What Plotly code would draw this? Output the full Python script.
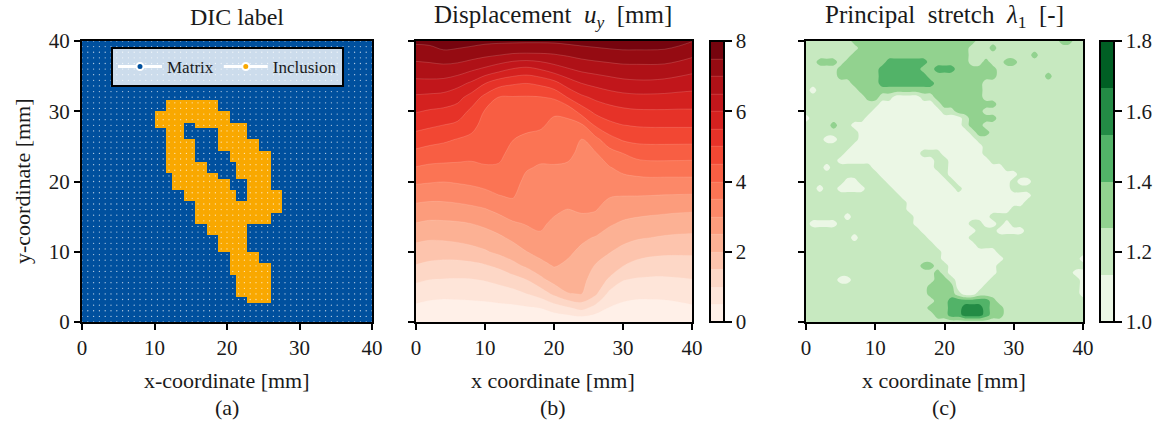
import numpy as np
import plotly.graph_objects as go

ticks_xy = [0, 10, 20, 30, 40]
node_mm = [0.8 * k for k in range(51)]
uy_x_mm = list(range(0, 41, 2))
uy_y_mm = list(range(0, 41, 2))
stretch_mm = list(range(41))

# (first row, last row, [(first col, last col), ...]) of label "Inclusion"
inclusion_rows = [
    (38, 39, [(15, 23)]), (36, 37, [(13, 25)]), (35, 35, [(13, 17), (20, 28)]),
    (33, 34, [(15, 17), (24, 28)]), (31, 32, [(15, 19), (24, 30)]),
    (29, 30, [(15, 19), (26, 32)]), (27, 28, [(15, 21), (27, 32)]),
    (26, 26, [(16, 23), (27, 32)]), (24, 25, [(16, 25), (29, 32)]),
    (22, 23, [(18, 26), (29, 34)]), (20, 21, [(20, 34)]), (18, 19, [(20, 32)]),
    (16, 17, [(22, 28)]), (13, 15, [(24, 28)]), (11, 12, [(26, 30)]),
    (9, 10, [(26, 32)]), (5, 8, [(27, 32)]), (4, 4, [(29, 32)]),
]

# displacement u_y in 1/100 mm; one list per x column, y from 0 upward
uy_columns = [
[5,39,73,108,147,179,212,248,283,320,358,398,437,477,517,554,592,637,678,718,760],
[5,33,64,99,138,173,206,241,278,316,354,391,428,467,508,545,588,637,681,722,763],
[5,31,61,97,134,171,208,242,279,316,351,389,424,459,499,539,583,634,682,733,779],
[5,32,62,96,133,174,213,244,283,320,355,389,419,448,489,528,567,617,677,729,774],
[5,33,64,97,136,183,220,250,289,326,360,388,415,440,464,489,531,593,659,721,768],
[5,35,67,103,145,195,228,260,297,335,368,397,411,422,434,446,486,552,641,710,762],
[5,37,73,114,160,211,241,276,312,349,373,396,409,419,429,439,449,521,620,701,760],
[5,39,82,129,185,226,260,293,330,355,366,378,389,401,416,431,447,507,597,693,759],
[5,43,99,149,208,249,279,303,316,328,340,354,373,392,410,428,446,501,586,691,758],
[5,50,120,186,233,267,294,307,317,327,336,346,362,385,407,427,448,511,602,692,758],
[5,72,160,218,253,266,280,293,307,320,334,347,361,375,388,407,457,533,627,696,759],
[5,92,198,221,242,258,272,285,299,314,329,344,359,373,387,414,503,574,646,705,764],
[5,116,201,214,228,241,258,286,305,313,322,331,340,348,391,474,540,601,662,715,769],
[5,81,159,178,197,222,247,278,303,314,325,335,346,385,456,513,561,615,670,722,773],
[5,47,86,144,176,203,230,256,280,304,326,347,379,432,486,529,575,627,676,728,777],
[5,36,68,102,151,185,215,243,272,301,332,365,400,456,499,539,584,636,682,733,779],
[5,32,61,94,134,171,205,236,267,301,336,374,418,464,504,544,588,640,683,733,779],
[5,32,61,92,127,163,200,231,264,300,338,379,423,465,506,545,588,640,684,733,779],
[5,33,62,92,125,159,195,227,261,298,337,379,423,465,506,545,587,636,682,731,777],
[5,37,66,95,126,158,192,224,258,297,337,379,422,465,506,544,584,629,674,721,767],
[5,43,71,98,127,158,190,223,256,296,337,378,421,465,506,544,583,622,664,708,752],
]

# principal stretch read as band index on a 1 mm grid, rows from y=40 down to y=0
stretch_rows_top_down = [
"1111111 222222222222222222 111111111111 22 11",
"11111111 2222222222222222 111 2 1111111111111",
"1111111 22222222222222222 111111111 2 1111111",
"11 222 1 222222 333333 222222 11 2 11 22 1111111111",
"11111 222222 333333 22 333 222222 1111111111111",
"11111 222222 3333333 2222222222 1111111 2 11111",
"1111111 2222 33333333 2222222 111111111111111",
"1 0 111111 222222222222222222 111111111111111",
"111111111 22 11 0000 11 2222222 111111111111111",
"11111111111 00000000 1 22222222 1111111111111",
"1111111111 0000000000 11 2222 111111111111111",
"0 11111111 00000000000000 1 2222 1111111111111",
"1111 2 11 0000000000000000 1 22 111111111111111",
"11111111 0000000000000000 1 22 11111111111111",
"111 00 111 00000000000000000 1111111111111111",
"1111111 0000000000000000000 111111111111111",
"111111 00000000000 111 000000 111111111111111",
"11111 00000000000000 11 000000 11111111111111",
"111 0 111111 000000000 11 00000000 111111111111",
"11111111111 000000000 1 0000000000 1111111111",
"111111 00 1111 000000000 1 00000000 1 00 11111111",
"11 0 11 0000 1111 000000000 1 0000000 11111111111",
"11111111111111 0000000000000000000 11111111",
"111111111111111 00000000000000000 111111111",
"111111111111111 000000000000000 11111111111",
"111111 0 111111111 00000000000 11111111111111",
"1 0000 11111111111 00000000 11 00 1 0 11111111111",
"11111111111111111 00000000 111 0000 111111111",
"1111111 0 1111111111 000000 11111111111111111",
"1111111111111111111 000000 1111111111111111",
"11111111111111111111 00000000 1111111111111",
"11111111111111111111 000000000 11111111111 0",
"11111111111111111 22 11 0000000 1111111111111",
"1111111111111111111 2 1 0000000 11111111111 00",
"11111 00 111111111111 22 1 00000 1111111111111 0",
"111111111111111111 2222 0000 11111111111111 0",
"111111111111111111 2222 1 00 111111111111111 0",
"1111111111111111111 22 333333 2 1111111111111",
"111111111111111111 222 33 444 3 22 111111111111",
"1111111111111111111 22 33 444 3 22 111111111111",
"11111111111111111111111111111111111111111",
]
band_value = {"0": 1.07, "1": 1.2, "2": 1.33, "3": 1.47, "4": 1.6}

labels = np.zeros((51, 51))
for r0, r1, spans in inclusion_rows:
    for c0, c1 in spans:
        labels[r0:r1 + 1, c0:c1 + 1] = 1
uy = np.array(uy_columns).T / 100
stretch = [[band_value[ch] for ch in row.replace(" ", "")] for row in stretch_rows_top_down[::-1]]

reds = ["#fff0e8", "#fee5d9", "#fdd7c6", "#fdc4ad", "#fcb194", "#fc9c7c", "#fc8868", "#fb7454",
        "#f85e43", "#f24733", "#e63228", "#d4211f", "#c1161b", "#af1117", "#950b12", "#76040e"]
greens = ["#ebf7e5", "#c7e9c0", "#92d28f", "#52b368", "#238b45", "#005f24"]

def steps(colors):
    out = []
    n = len(colors)
    for k, col in enumerate(colors):
        out += [[k / n, col], [(k + 1) / n, col]]
    return out

W, H = 1171, 423
T, B = 41, 322
def px(v): return v / W
def py(v): return 1 - v / H
def dx(a, b): return [px(a), px(b)]
dy = [py(B), py(T)]
FONT = "Liberation Serif"
INK = "#1a1a1a"
fig = go.Figure()
fig.add_trace(go.Heatmap(x=node_mm, y=node_mm, z=labels, zmin=0, zmax=1, showscale=False,
                         colorscale=[[0, "#00509e"], [0.5, "#00509e"], [0.5, "#f9a800"], [1, "#f9a800"]],
                         hoverinfo="skip", xaxis="x", yaxis="y"))
gx, gy = np.meshgrid(node_mm, node_mm)
fig.add_trace(go.Scatter(x=gx.ravel(), y=gy.ravel(), mode="markers", showlegend=False,
                         marker=dict(size=1.3, color="rgba(255,255,255,0.7)", line=dict(width=0)),
                         xaxis="x", yaxis="y"))
for name, col in [("Matrix", "#00509e"), ("Inclusion", "#f9a800")]:
    fig.add_trace(go.Scatter(x=[None], y=[None], name=name, mode="lines+markers",
                             line=dict(color="white", width=3),
                             marker=dict(size=7, color=col, line=dict(color="white", width=2)),
                             xaxis="x", yaxis="y"))

cb_common = dict(thickness=14, thicknessmode="pixels", lenmode="pixels", len=B - T, y=py(B), yanchor="bottom",
                 xanchor="left", xpad=0, ypad=0, outlinewidth=2, outlinecolor="black",
                 ticks="outside", ticklen=7, tickwidth=2, tickcolor="black",
                 tickfont=dict(family=FONT, size=21, color=INK))
fig.add_trace(go.Contour(x=uy_x_mm, y=uy_y_mm, z=uy, zmin=0, zmax=8,
                         contours=dict(start=0, end=8, size=0.5, coloring="fill"),
                         line=dict(width=0.5, color="rgba(255,225,215,0.35)"),
                         colorscale=steps(reds), hoverinfo="skip",
                         colorbar=dict(x=px(710), tickvals=[0, 2, 4, 6, 8], **cb_common),
                         xaxis="x2", yaxis="y2"))
fig.add_trace(go.Contour(x=stretch_mm, y=stretch_mm, z=stretch, zmin=1, zmax=1.8,
                         contours=dict(start=1, end=1.8, size=0.8 / 6, coloring="fill"),
                         line=dict(width=0), colorscale=steps(greens), hoverinfo="skip",
                         colorbar=dict(x=px(1100), tickvals=[1, 1.2, 1.4, 1.6, 1.8], tickformat=".1f", **cb_common),
                         xaxis="x3", yaxis="y3"))

ax = dict(range=[0, 40], tickvals=ticks_xy, ticks="outside", ticklen=6, tickwidth=1.6, tickcolor="black",
          showline=True, linecolor="black", linewidth=2, mirror=True, showgrid=False, zeroline=False,
          tickfont=dict(family=FONT, size=21, color=INK))
doms = [dx(82, 372), dx(416, 692), dx(806, 1083)]
layout = dict(width=W, height=H, margin=dict(l=0, r=0, t=0, b=0, autoexpand=False), autosize=False,
              paper_bgcolor="white", plot_bgcolor="white", font=dict(family=FONT, size=21, color=INK),
              legend=dict(orientation="h", x=px(111), y=py(47), xanchor="left", yanchor="top",
                          bgcolor="rgba(255,255,255,0.8)", bordercolor="black", borderwidth=2,
                          font=dict(family=FONT, size=17, color=INK), itemwidth=44))
for i, d in enumerate(doms):
    s = "" if i == 0 else str(i + 1)
    layout["xaxis" + s] = dict(ax, domain=d, anchor="y" + s)
    layout["yaxis" + s] = dict(ax, domain=dy, anchor="x" + s, showticklabels=(i == 0))
fig.update_layout(**layout)

def note(text, x, y, size=22, angle=0):
    fig.add_annotation(text=text, xref="paper", yref="paper", x=px(x), y=py(y), showarrow=False,
                       xanchor="center", yanchor="middle", textangle=angle, font=dict(family=FONT, size=size, color=INK))
note("DIC label", 237, 17, 24)
note("Displacement&nbsp;&nbsp;<i>u<sub>y</sub></i>&nbsp;&nbsp;[mm]", 553, 17, 25)
note("Principal&nbsp;&nbsp;stretch&nbsp;&nbsp;<i>λ</i><sub>1</sub>&nbsp;&nbsp;[-]", 944, 17, 25)
note("x-coordinate [mm]", 227, 380)
note("x coordinate [mm]", 553, 380)
note("x coordinate [mm]", 944, 380)
note("(a)", 227, 407)
note("(b)", 553, 407)
note("(c)", 944, 407)
note("y-coordinate [mm]", 22, 181, 22, -90)

fig.write_html("out.html", config={"displayModeBar": False},
               post_script="document.body.style.margin='0';")
